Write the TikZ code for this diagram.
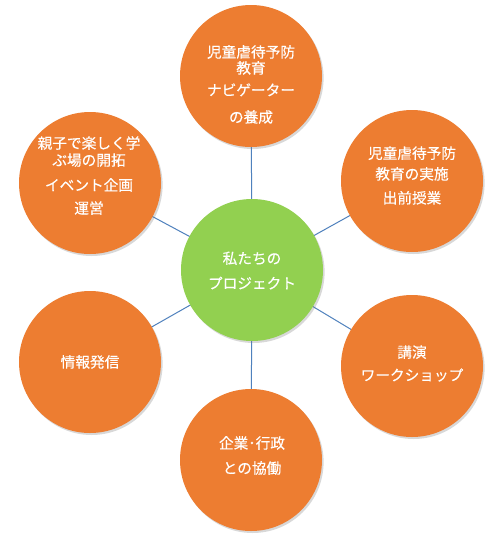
\documentclass[tikz,border=0pt]{standalone}
\usepackage{fontspec}
\setmainfont{Noto Sans CJK JP}[FakeBold=0.35]
\usetikzlibrary{shadows}
\definecolor{orng}{HTML}{ED7D31}
\definecolor{grn}{HTML}{92D050}
\definecolor{lnk}{HTML}{4F81BD}
\tikzset{
  bubble/.style={circle, fill=orng, draw=none, minimum size=106.5pt, inner sep=0pt,
    drop shadow={shadow xshift=1.2pt, shadow yshift=-1.5pt, opacity=0.3}},
  hub/.style={bubble, fill=grn},
  lbl/.style={text=white, align=center, font=\fontsize{11}{12}\selectfont, inner sep=0pt},
  conn/.style={draw=lnk, line width=0.75pt}
}
\begin{document}
\begin{tikzpicture}[x=0.75pt, y=-0.75pt]
\useasboundingbox (0,0) rectangle (496,544);
\fill[white] (0,0) rectangle (496,544);
% connectors first (behind)
\coordinate (c0) at (252,270);
\coordinate (c1) at (251,76);
\coordinate (c2) at (412,181);
\coordinate (c3) at (412,366);
\coordinate (c4) at (251,460);
\coordinate (c5) at (90,362);
\coordinate (c6) at (90,183);
\foreach \i in {1,...,6}{\draw[conn] (c0) -- (c\i);}
% circles
\node[hub] (hubn) at (c0) {};
\node[bubble] (b1) at (c1) {};
\node[bubble] (b2) at (c2) {};
\node[bubble] (b3) at (c3) {};
\node[bubble] (b4) at (c4) {};
\node[bubble] (b5) at (c5) {};
\node[bubble] (b6) at (c6) {};
% texts
\node[lbl] (t0) at (252,270.5) {私たちの\\[6.75pt]プロジェクト};
\node[lbl] (t1) at (251,84.5) {児童虐待予防\\教育\\[4.5pt]ナビゲーター\\[8.25pt]の養成};
\node[lbl] (t2) at (412,175.5) {児童虐待予防\\[3.5pt]教育の実施\\[6pt]出前授業};
\node[lbl] (t3) at (412,363.5) {講演\\[5.25pt]ワークショップ};
\node[lbl] (t4) at (252,455.5) {企業･行政\\[6.75pt]との協働};
\node[lbl] (t5) at (90,362) {情報発信};
\node[lbl] (t6) at (89,175.5) {親子で楽しく学\\[0.75pt]ぶ場の開拓\\[6.75pt]イベント企画\\[5.25pt]運営};
\end{tikzpicture}
\end{document}
